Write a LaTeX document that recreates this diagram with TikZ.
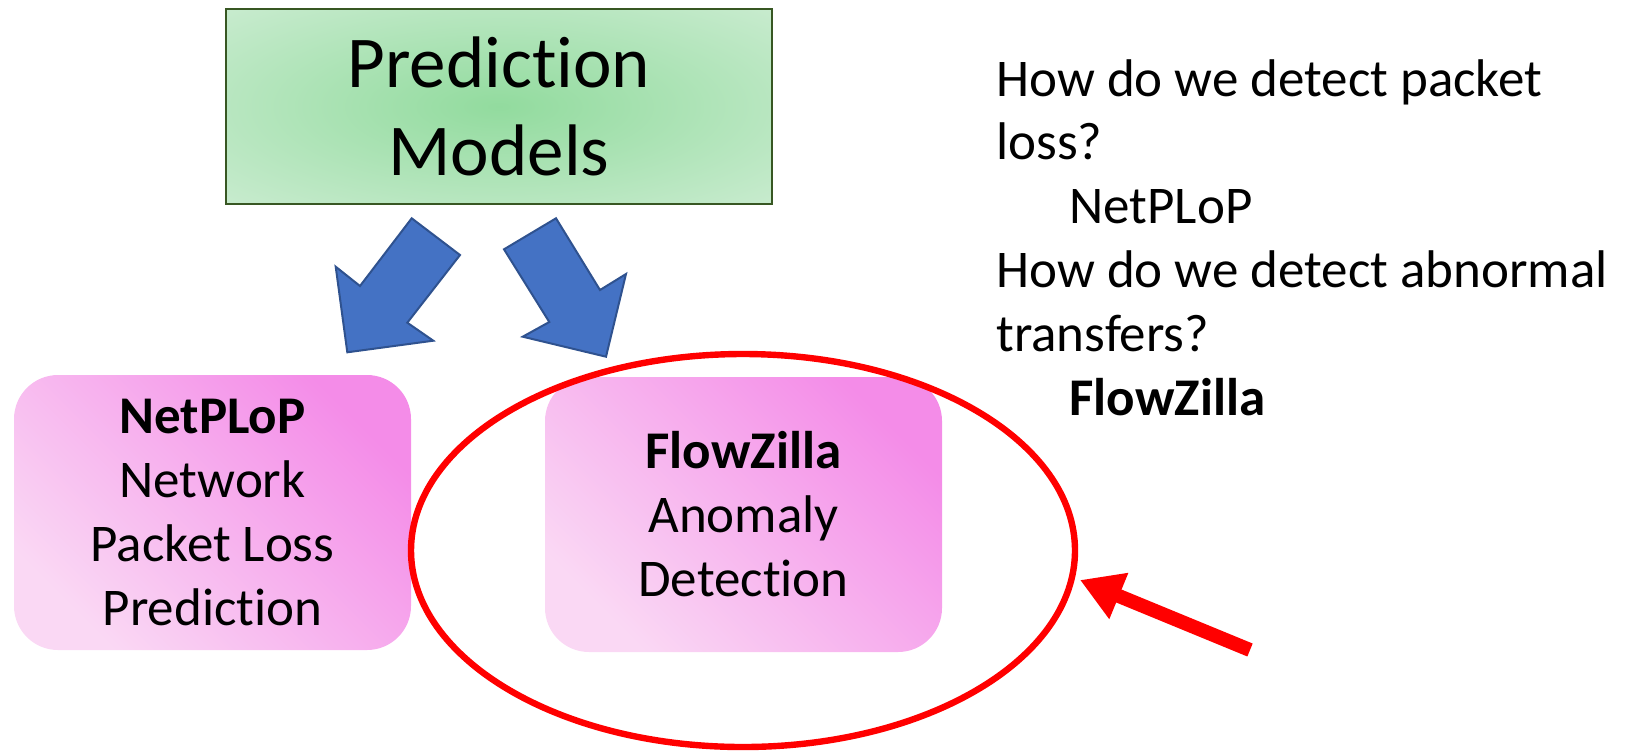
\documentclass[tikz,border=0pt]{standalone}
\usepackage{fontspec}
\setmainfont[RawFeature={-liga}]{Carlito}
\usetikzlibrary{arrows.meta,shapes.geometric}
\definecolor{blueA}{RGB}{68,114,196}
\definecolor{blueB}{RGB}{47,82,143}
\definecolor{greenB}{RGB}{56,87,35}
\definecolor{greenC}{RGB}{146,219,158}
\definecolor{greenO}{RGB}{222,242,226}
\definecolor{pinkD}{RGB}{244,140,232}
\definecolor{pinkL}{RGB}{250,216,244}
\definecolor{redA}{RGB}{255,0,0}
\pgfdeclareradialshading{greenrad}{\pgfpoint{0bp}{0bp}}{color(0bp)=(greenC); color(50bp)=(greenO); color(72bp)=(greenO)}
\begin{document}
\begin{tikzpicture}[x=0.5pt,y=-0.5pt,
  pinkbox/.style={rounded corners=22pt, minimum width=198.5pt, minimum height=137.5pt,
    inner sep=0pt, align=center, font=\fontsize{26.5}{32}\selectfont,
    top color=pinkD, bottom color=pinkL, shading angle=-45},
  greenbox/.style={draw=greenB, line width=1.2pt, shading=greenrad,
    minimum width=273pt, minimum height=97.5pt, inner sep=0pt, align=center,
    font=\fontsize{36.5}{44}\selectfont},
  blockarrow/.style={fill=blueA, draw=blueB, line width=1pt, line join=miter},
  qtext/.style={anchor=base west, inner sep=0pt, font=\fontsize{26.5}{32}\selectfont},
  hilite/.style={ellipse, draw=redA, line width=3.2pt, inner sep=0pt,
    minimum width=332pt, minimum height=393pt*0.5},
  pointer/.style={draw=redA, line width=7pt, -{Triangle[length=21pt,width=23.5pt]}}
]
\useasboundingbox (0,0) rectangle (1631,750);

% top box
\node[greenbox] (pm) at (499,106.5) {Prediction\\Models};

% block arrows
\draw[blockarrow] (411.7,218.3) -- (460,255) -- (407.3,322.7) -- (433.3,340.7)
  -- (347.3,352.3) -- (335.7,266.7) -- (360,286) -- cycle;
\draw[blockarrow] (504,249.3) -- (556,218.3) -- (600,290) -- (626,274)
  -- (606,356.7) -- (522.7,336.7) -- (549.3,322) -- cycle;

% pink boxes
\node[pinkbox] (np) at (212.5,512.5) {\textbf{NetPLoP}\\Network\\Packet Loss\\Prediction};
\node[pinkbox] (fz) at (743.5,514.5) {\textbf{FlowZilla}\\Anomaly\\Detection};

% highlight ellipse
\node[hilite] (hl) at (743,550.5) {};

% red pointer
\coordinate (rtail) at (1250,650);
\coordinate (rtip) at (1080,580);
\draw[pointer] (rtail) -- (rtip);

% question text
\node[qtext] (q1) at (996,96) {How do we detect packet};
\node[qtext] (q2) at (996,159) {loss?};
\node[qtext] (q3) at (1069,223) {NetPLoP};
\node[qtext] (q4) at (996,287) {How do we detect abnormal};
\node[qtext] (q5) at (996,351) {transfers?};
\node[qtext] (q6) at (1069,415) {\textbf{FlowZilla}};
\end{tikzpicture}
\end{document}
